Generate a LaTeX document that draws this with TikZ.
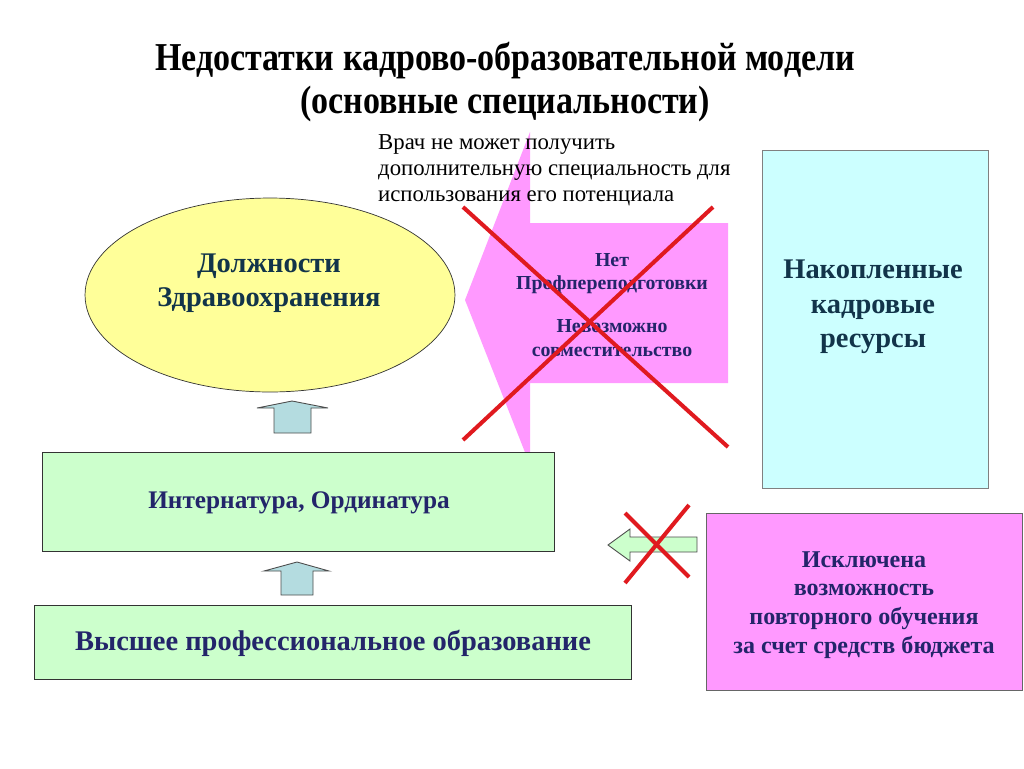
\documentclass[tikz,border=0pt]{standalone}
\usepackage{fontspec}
\usetikzlibrary{shapes.geometric}
\setmainfont{Liberation Serif}
\newfontfamily\narrowfont[FakeStretch=0.86]{Liberation Serif}
\definecolor{txtnavy}{HTML}{23256A}
\definecolor{txtteal}{HTML}{12344A}
\definecolor{ovalfill}{HTML}{FFFF99}
\definecolor{greenfill}{HTML}{CCFFCC}
\definecolor{cyanfill}{HTML}{CCFFFF}
\definecolor{pinkfill}{HTML}{FF99FF}
\definecolor{bluefill}{HTML}{B4DCE0}
\definecolor{crossred}{HTML}{E01A1F}

\begin{document}
\begin{tikzpicture}[x=0.02cm,y=-0.02cm]
        \tikzstyle{box}=[rectangle, draw=black!80, inner sep=0pt, align=center]
        \tikzstyle{bold}=[font=\bfseries\fontsize{16.2}{19.5}\selectfont, text=txtnavy, align=center]
        \tikzstyle{blockarrow}=[draw=black!70, fill=bluefill, line width=0.5pt]
        \tikzstyle{cross}=[draw=crossred, line width=2.3pt]

        \useasboundingbox (0,0) rectangle (1024,768);

        % title
        \node[font=\narrowfont\bfseries\fontsize{22.5}{24}\selectfont, align=center] (t) at (505,82)
            {Недостатки кадрово-образовательной модели\\(основные специальности)};

        % big pink arrow
        \fill[pinkfill] (465,300) -- (530,132) -- (530,223) -- (728,223) -- (728,383)
            -- (530,383) -- (530,465) -- cycle;
        \node[font=\bfseries\fontsize{11.3}{13.5}\selectfont, text=txtnavy, align=center] (p) at (612,305)
            {Нет\\Профпереподготовки\\[11pt]Невозможно\\совместительство};

        \node[font=\fontsize{12.95}{14.8}\selectfont, align=left, anchor=north west] (v) at (372,128)
            {Врач не может получить\\дополнительную специальность для\\использования его потенциала};

        % oval
        \node[ellipse, draw=black!80, fill=ovalfill, minimum width=7.4cm, minimum height=3.88cm] (a) at (270,295) {};
        \node[bold, text=txtteal] (a1) at (269,283) {Должности\\Здравоохранения};

        % boxes
        \node[box, fill=greenfill, minimum width=10.24cm, minimum height=1.98cm] (b) at (298,501.5) {};
        \node[bold, font=\bfseries\fontsize{14.4}{16}\selectfont] (b1) at (299,503) {Интернатура, Ординатура};

        \node[box, fill=greenfill, minimum width=11.94cm, minimum height=1.48cm] (c) at (332.5,642) {};
        \node[bold, font=\bfseries\fontsize{16.2}{18}\selectfont] (c1) at (333,643) {Высшее профессиональное образование};

        \node[box, draw=black!50, fill=cyanfill, minimum width=4.52cm, minimum height=6.76cm] (d) at (875,319) {};
        \node[bold, text=txtteal] (d1) at (873,307) {Накопленные\\кадровые\\ресурсы};

        \node[box, draw=black!60, fill=pinkfill, minimum width=6.32cm, minimum height=3.54cm] (e) at (864,601.5) {};
        \node[bold, font=\bfseries\fontsize{13.7}{16.4}\selectfont] (e1) at (864,605)
            {Исключена\\возможность\\повторного обучения\\за счет средств бюджета};

        % small arrows
        \filldraw[blockarrow] (292,401) -- (328,408) -- (311,408) -- (311,433) -- (274,433) -- (274,408) -- (257,408) -- cycle;
        \filldraw[blockarrow] (297,562) -- (329,571) -- (313,571) -- (313,595) -- (281,595) -- (281,571) -- (264,571) -- cycle;
        \filldraw[blockarrow, fill=greenfill] (608,545) -- (630,529) -- (630,537) -- (697,537) -- (697,552) -- (630,552) -- (630,561) -- cycle;

        % crosses
        \draw[cross] (463,207) -- (728,447);
        \draw[cross] (713,207) -- (463,440);
        \draw[cross] (625,513) -- (689,577);
        \draw[cross] (689,505) -- (625,583);
\end{tikzpicture}
\end{document}
